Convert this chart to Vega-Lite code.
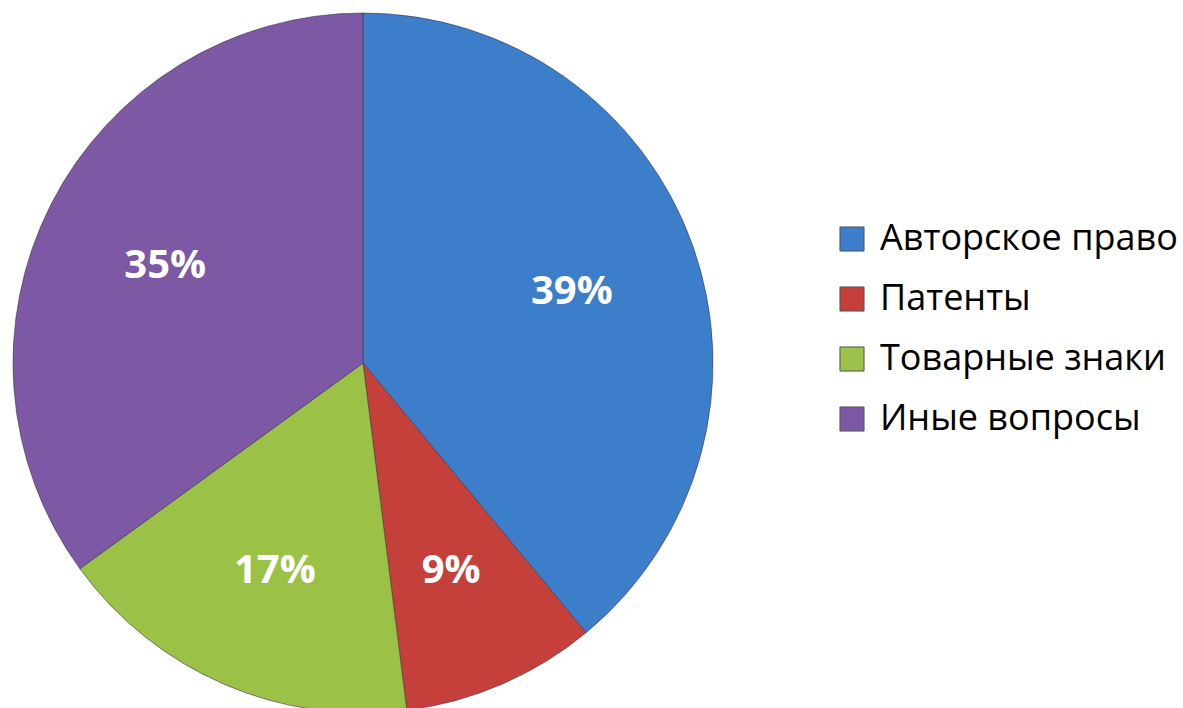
{
  "$schema": "https://vega.github.io/schema/vega-lite/v6.json",
  "width": 726,
  "height": 726,
  "autosize": {"type": "none"},
  "padding": {"left": 0, "top": 0, "right": 457, "bottom": 0},
  "background": "white",
  "view": {"stroke": null},
  "data": {
    "values": [
      {"category": "Авторское право", "value": 39, "order": 1},
      {"category": "Патенты", "value": 9, "order": 2},
      {"category": "Товарные знаки", "value": 17, "order": 3},
      {"category": "Иные вопросы", "value": 35, "order": 4}
    ]
  },
  "encoding": {
    "theta": {"field": "value", "type": "quantitative", "stack": true},
    "order": {"field": "order", "type": "quantitative"}
  },
  "layer": [
    {
      "mark": {"type": "arc", "outerRadius": 350, "stroke": "#3a3a4a", "strokeWidth": 1, "strokeOpacity": 0.6},
      "encoding": {
        "color": {
          "field": "category",
          "type": "nominal",
          "sort": ["Авторское право", "Патенты", "Товарные знаки", "Иные вопросы"],
          "scale": {
            "domain": ["Авторское право", "Патенты", "Товарные знаки", "Иные вопросы"],
            "range": ["#3D7ECB", "#C6403B", "#9BC146", "#7C58A5"]
          },
          "legend": {
            "title": null,
            "orient": "none",
            "legendX": 834,
            "legendY": 221,
            "symbolType": "square",
            "symbolSize": 580,
            "symbolStrokeColor": "#555555",
            "symbolStrokeWidth": 1,
            "labelFont": "Open Sans",
            "labelFontSize": 36,
            "labelColor": "#000000",
            "labelOffset": 10,
            "rowPadding": 24,
            "labelLimit": 400
          }
        }
      }
    },
    {
      "mark": {"type": "text", "radius": 222, "dy": 4, "font": "Open Sans", "fontWeight": "bold", "fontSize": 40, "fill": "white"},
      "encoding": {
        "text": {"field": "label", "type": "nominal"}
      },
      "transform": [{"calculate": "datum.value + '%'", "as": "label"}]
    }
  ]
}
